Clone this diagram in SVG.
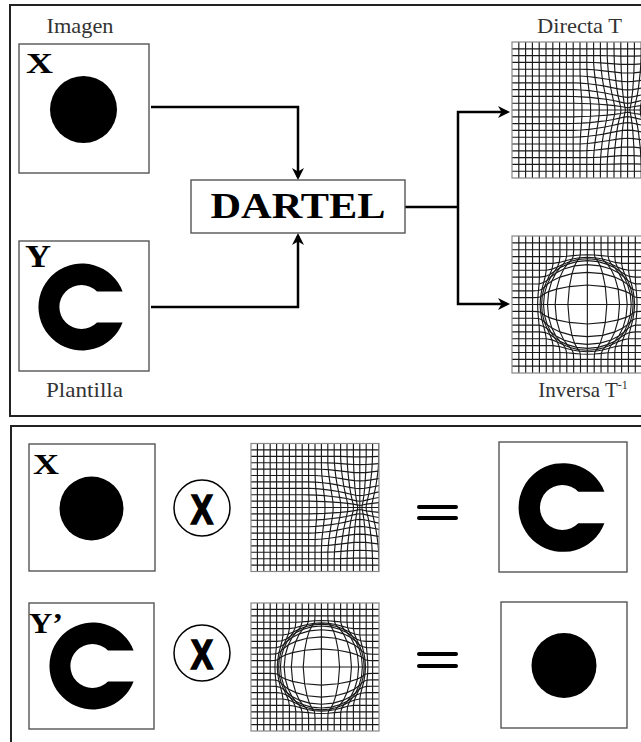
<svg xmlns="http://www.w3.org/2000/svg" xmlns:xlink="http://www.w3.org/1999/xlink" width="641" height="742" viewBox="0 0 641 742">
<defs>
<style>
.frame{fill:none;stroke:#222;stroke-width:2}
.box{fill:#fff;stroke:#555;stroke-width:1.4}
.gbox{fill:none;stroke:#888;stroke-width:1.2}
.lbl{font-family:"Liberation Serif","DejaVu Serif",serif;font-size:21px;fill:#333}
.big{font-family:"Liberation Serif","DejaVu Serif",serif;font-weight:bold;fill:#000}
.conn{fill:none;stroke:#000;stroke-width:2.5}
.eq{stroke:#000;stroke-width:4;stroke-linecap:round}
.op{fill:#fff;stroke:#000;stroke-width:1.5}
.opx{font-family:"Liberation Sans","DejaVu Sans",sans-serif;font-weight:bold;font-size:42px;fill:#000;stroke:#000;stroke-width:1.6}
.ink{fill:#000;filter:url(#soft)}
.grid path{fill:none;stroke:#1a1a1a;stroke-width:1.15;vector-effect:non-scaling-stroke}
</style>
<filter id="soft" x="-10%" y="-10%" width="120%" height="120%"><feGaussianBlur stdDeviation="0.6"/></filter>
<marker id="arr" viewBox="-10 -7 14 14" markerWidth="14" markerHeight="14" refX="0" refY="0" orient="auto" markerUnits="userSpaceOnUse">
<path d="M3,0 L-9,-6 L-5.5,0 L-9,6 Z" fill="#000"/>
</marker>
<path id="cshape" d="M40.6,-15.5 A43.5,43.5 0 1 0 40.6,15.5 L15,15.5 A22,22 0 1 1 15,-15.5 Z"/>
<symbol id="directaGrid" viewBox="0 0 100 100" class="grid">
<path d="M5 0V100M10 0V100M15 0V100M20 0V100M25 0V100M30 0V100M35 0V100M40 0V100M85 0V100M0 5H130M0 50H130M0 95H130"/>
<path d="M0 55 L40 55 L45.4 55 L51.4 54.8 L57.7 54.6 L64 54.2 L70 53.8 L75.4 53.2 L79.8 52.6 L83 52 L85 51.6 L87 52 L90.2 52.6 L94.6 53.2 L100 53.8 L106 54.2 L112.3 54.6 L118.6 54.8 L124.6 55 L130 55
M0 60 L40 60 L45.2 59.9 L51.1 59.7 L57.3 59.3 L63.4 58.6 L69.3 57.9 L74.6 57 L79 56 L82.4 55.2 L85 54.9 L87.6 55.2 L91 56 L95.4 57 L100.7 57.9 L106.6 58.6 L112.8 59.3 L118.9 59.7 L124.8 59.9 L130 60
M0 65 L40 65 L45.1 65 L50.7 64.7 L56.7 64.2 L62.6 63.4 L68.4 62.5 L73.6 61.4 L78.1 60.4 L81.8 59.6 L85 59.3 L88.2 59.6 L92 60.4 L96.4 61.4 L101.6 62.5 L107.4 63.4 L113.4 64.2 L119.3 64.7 L124.9 65 L130 65
M0 70 L45 70 L50.3 69.8 L56 69.3 L61.8 68.6 L67.3 67.7 L72.5 66.6 L77.2 65.7 L81.3 65 L85 64.8 L88.8 65 L92.9 65.7 L97.5 66.6 L102.7 67.7 L108.2 68.6 L114 69.3 L119.7 69.8 L125 70 L130 70
M0 75 L45 75 L50.1 75 L55.5 74.6 L61 74 L66.4 73.2 L71.6 72.4 L76.4 71.6 L80.8 71 L85 70.8 L89.2 71 L93.6 71.6 L98.4 72.4 L103.6 73.2 L109 74 L114.6 74.6 L119.9 75 L125 75 L130 75
M0 80 L50 80 L55.1 79.9 L60.4 79.6 L65.7 79 L70.8 78.4 L75.8 77.8 L80.4 77.3 L85 77.2 L89.6 77.3 L94.3 77.8 L99.2 78.4 L104.3 79 L109.6 79.6 L114.9 79.9 L120 80 L130 80
M0 85 L55 85 L60.1 84.9 L65.2 84.7 L70.3 84.3 L75.3 83.9 L80.2 83.6 L85 83.5 L89.8 83.6 L94.7 83.9 L99.7 84.3 L104.8 84.7 L110 84.9 L115 85 L130 85
M0 90 L65 90 L70 89.9 L75.1 89.8 L80 89.6 L85 89.6 L90 89.6 L94.9 89.8 L100 89.9 L105 90 L130 90
M0 45 L40 45 L45.4 45 L51.4 45.2 L57.7 45.4 L64 45.8 L70 46.2 L75.4 46.8 L79.8 47.4 L83 48 L85 48.4 L87 48 L90.2 47.4 L94.6 46.8 L100 46.2 L106 45.8 L112.3 45.4 L118.6 45.2 L124.6 45 L130 45
M0 40 L40 40 L45.2 40.1 L51.1 40.3 L57.3 40.7 L63.4 41.4 L69.3 42.1 L74.6 43 L79 44 L82.4 44.8 L85 45.1 L87.6 44.8 L91 44 L95.4 43 L100.7 42.1 L106.6 41.4 L112.8 40.7 L118.9 40.3 L124.8 40.1 L130 40
M0 35 L40 35 L45.1 35 L50.7 35.3 L56.7 35.8 L62.6 36.6 L68.4 37.5 L73.6 38.6 L78.1 39.6 L81.8 40.4 L85 40.7 L88.2 40.4 L92 39.6 L96.4 38.6 L101.6 37.5 L107.4 36.6 L113.4 35.8 L119.3 35.3 L124.9 35 L130 35
M0 30 L45 30 L50.3 30.2 L56 30.7 L61.8 31.4 L67.3 32.3 L72.5 33.4 L77.2 34.3 L81.3 35 L85 35.2 L88.8 35 L92.9 34.3 L97.5 33.4 L102.7 32.3 L108.2 31.4 L114 30.7 L119.7 30.2 L125 30 L130 30
M0 25 L45 25 L50.1 25 L55.5 25.4 L61 26 L66.4 26.8 L71.6 27.6 L76.4 28.4 L80.8 29 L85 29.2 L89.2 29 L93.6 28.4 L98.4 27.6 L103.6 26.8 L109 26 L114.6 25.4 L119.9 25 L125 25 L130 25
M0 20 L50 20 L55.1 20.1 L60.4 20.4 L65.7 21 L70.8 21.6 L75.8 22.2 L80.4 22.7 L85 22.8 L89.6 22.7 L94.3 22.2 L99.2 21.6 L104.3 21 L109.6 20.4 L114.9 20.1 L120 20 L130 20
M0 15 L55 15 L60.1 15.1 L65.2 15.3 L70.3 15.7 L75.3 16.1 L80.2 16.4 L85 16.5 L89.8 16.4 L94.7 16.1 L99.7 15.7 L104.8 15.3 L110 15.1 L115 15 L130 15
M0 10 L65 10 L70 10.1 L75.1 10.2 L80 10.4 L85 10.4 L90 10.4 L94.9 10.2 L100 10.1 L105 10 L130 10"/>
<path d="M45 0 L45 30 L45.1 35 L45.2 40.1 L45.4 45 L45.4 50 L45.4 55 L45.2 59.9 L45.1 65 L45 70 L45 100
M50 0 L50 20 L50.1 25.1 L50.3 30.2 L50.7 35.3 L51.1 40.3 L51.4 45.2 L51.5 50 L51.4 54.8 L51.1 59.7 L50.7 64.7 L50.3 69.8 L50.1 75 L50 80 L50 100
M55 0 L55 15 L55.1 20.1 L55.4 25.4 L56 30.7 L56.6 35.8 L57.2 40.8 L57.7 45.4 L57.8 50 L57.7 54.6 L57.2 59.3 L56.6 64.2 L56 69.3 L55.4 74.6 L55.1 79.9 L55 85 L55 100
M60 0 L60 10 L60 15.1 L60.4 20.5 L61 26 L61.8 31.4 L62.6 36.6 L63.4 41.4 L64 45.8 L64.2 50 L64 54.2 L63.4 58.6 L62.6 63.4 L61.8 68.6 L61 74 L60.4 79.6 L60 84.9 L60 90 L60 100
M65 0 L65 10 L65.2 15.3 L65.7 21 L66.4 26.8 L67.3 32.3 L68.4 37.5 L69.3 42.2 L70 46.3 L70.2 50 L70 53.8 L69.3 57.9 L68.4 62.5 L67.3 67.7 L66.4 73.2 L65.7 79 L65.2 84.7 L65 90 L65 100
M70 0 L70 5 L70 10.1 L70.3 15.7 L70.8 21.7 L71.6 27.6 L72.5 33.4 L73.6 38.6 L74.6 43.1 L75.4 46.8 L75.7 50 L75.4 53.2 L74.6 57 L73.6 61.4 L72.5 66.6 L71.6 72.4 L70.8 78.4 L70.3 84.3 L70 89.9 L70 95 L70 100
M75 0 L75 5 L75.1 10.2 L75.3 16.1 L75.7 22.3 L76.4 28.4 L77.1 34.3 L78 39.6 L79 44 L79.8 47.4 L80.1 50 L79.8 52.6 L79 56 L78 60.4 L77.1 65.7 L76.4 71.6 L75.7 77.8 L75.3 83.9 L75.1 89.8 L75 95 L75 100
M80 0 L80 5 L80 10.4 L80.2 16.4 L80.4 22.7 L80.8 29 L81.2 35 L81.8 40.4 L82.4 44.8 L83 48 L83.4 50 L83 52 L82.4 55.2 L81.8 59.6 L81.2 65 L80.8 71 L80.4 77.3 L80.2 83.6 L80 89.6 L80 95 L80 100
M90 0 L90 5 L90 10.4 L89.8 16.4 L89.6 22.7 L89.2 29 L88.8 35 L88.2 40.4 L87.6 44.8 L87 48 L86.6 50 L87 52 L87.6 55.2 L88.2 59.6 L88.8 65 L89.2 71 L89.6 77.3 L89.8 83.6 L90 89.6 L90 95 L90 100
M95 0 L95 5 L94.9 10.2 L94.7 16.1 L94.3 22.3 L93.6 28.4 L92.9 34.3 L92 39.6 L91 44 L90.2 47.4 L89.9 50 L90.2 52.6 L91 56 L92 60.4 L92.9 65.7 L93.6 71.6 L94.3 77.8 L94.7 83.9 L94.9 89.8 L95 95 L95 100
M100 0 L100 5 L100 10.1 L99.7 15.7 L99.2 21.7 L98.4 27.6 L97.5 33.4 L96.4 38.6 L95.4 43.1 L94.6 46.8 L94.3 50 L94.6 53.2 L95.4 57 L96.4 61.4 L97.5 66.6 L98.4 72.4 L99.2 78.4 L99.7 84.3 L100 89.9 L100 95 L100 100
M105 0 L105 10 L104.8 15.3 L104.3 21 L103.6 26.8 L102.7 32.3 L101.6 37.5 L100.7 42.2 L100 46.3 L99.8 50 L100 53.8 L100.7 57.9 L101.6 62.5 L102.7 67.7 L103.6 73.2 L104.3 79 L104.8 84.7 L105 90 L105 100"/>
</symbol>
<symbol id="inversaGrid" viewBox="0 0 100 100" class="grid">
<path d="M5 0V100M10 0V100M15 0V100M55 0V100M95 0V100M0 5H100M0 10H100M0 50H100M0 90H100M0 95H100"/>
<path d="M0 55 L15 55 L18.9 55.2 L20.9 55.7 L22.1 56.6 L23.7 57.8 L26.8 59.4 L32.5 61.2 L41.9 63.1 L55 64.2 L68.1 63.1 L77.5 61.2 L83.2 59.4 L86.3 57.8 L87.9 56.6 L89.1 55.7 L91.1 55.2 L95 55 L100 55
M0 45 L15 45 L18.9 44.8 L20.9 44.3 L22.1 43.4 L23.7 42.2 L26.8 40.6 L32.5 38.8 L41.9 36.9 L55 35.8 L68.1 36.9 L77.5 38.8 L83.2 40.6 L86.3 42.2 L87.9 43.4 L89.1 44.3 L91.1 44.8 L95 45 L100 45
M0 60 L15 60 L19.3 60.2 L21.9 61.1 L23.6 62.6 L25.7 64.7 L29.1 67.2 L35 70 L43.8 72.5 L55 73.5 L66.2 72.5 L75 70 L80.9 67.2 L84.3 64.7 L86.4 62.6 L88.2 61.1 L90.7 60.2 L95 60 L100 60
M0 40 L15 40 L19.3 39.8 L21.9 38.9 L23.6 37.4 L25.7 35.3 L29.1 32.8 L35 30 L43.8 27.5 L55 26.5 L66.2 27.5 L75 30 L80.9 32.8 L84.3 35.3 L86.4 37.4 L88.2 38.9 L90.7 39.8 L95 40 L100 40
M0 65 L15 65 L19.8 65.1 L23.1 66 L25.6 67.6 L28.3 70.1 L32.1 73 L37.8 75.9 L45.6 78.2 L55 79.1 L64.4 78.2 L72.2 75.9 L78 73 L81.8 70.1 L84.4 67.6 L86.9 66 L90.2 65.1 L95 65 L100 65
M0 35 L15 35 L19.8 34.9 L23.1 34 L25.6 32.4 L28.3 29.9 L32.1 27 L37.8 24.1 L45.6 21.8 L55 20.9 L64.4 21.8 L72.2 24.1 L78 27 L81.8 29.9 L84.4 32.4 L86.9 34 L90.2 34.9 L95 35 L100 35
M0 70 L20 70 L24.3 70.5 L27.6 71.9 L30.9 74.1 L34.9 76.8 L40.3 79.3 L47.2 81.3 L55 82 L62.8 81.3 L69.7 79.3 L75.1 76.8 L79.1 74.1 L82.4 71.9 L85.7 70.5 L90 70 L100 70
M0 30 L20 30 L24.3 29.5 L27.6 28.1 L30.9 25.9 L34.9 23.2 L40.3 20.7 L47.2 18.7 L55 18 L62.8 18.7 L69.7 20.7 L75.1 23.2 L79.1 25.9 L82.4 28.1 L85.7 29.5 L90 30 L100 30
M0 75 L20 75 L25 75 L29.2 75.8 L33.1 77.4 L37.4 79.4 L42.4 81.4 L48.4 82.9 L55 83.4 L61.6 82.9 L67.6 81.4 L72.6 79.4 L76.9 77.4 L80.8 75.8 L85 75 L90 75 L100 75
M0 25 L20 25 L25 25 L29.2 24.2 L33.1 22.6 L37.4 20.6 L42.4 18.6 L48.4 17.1 L55 16.6 L61.6 17.1 L67.6 18.6 L72.6 20.6 L76.9 22.6 L80.8 24.2 L85 25 L90 25 L100 25
M0 80 L25 80 L30 80 L34.5 80.7 L39.1 81.9 L44 83.2 L49.3 84.1 L55 84.5 L60.7 84.1 L66.1 83.2 L71 81.9 L75.5 80.7 L80 80 L85 80 L100 80
M0 20 L25 20 L30 20 L34.5 19.3 L39.1 18.1 L44 16.8 L49.3 15.9 L55 15.5 L60.7 15.9 L66.1 16.8 L71 18.1 L75.5 19.3 L80 20 L85 20 L100 20
M0 85 L35 85 L39.9 85.2 L44.8 85.7 L49.8 86.1 L55 86.3 L60.2 86.1 L65.2 85.7 L70.1 85.2 L75 85 L100 85
M0 15 L35 15 L39.9 14.8 L44.8 14.3 L49.8 13.9 L55 13.7 L60.2 13.9 L65.2 14.3 L70.1 14.8 L75 15 L100 15"/>
<path d="M60 0 L60 10 L60.2 13.9 L60.7 15.9 L61.6 17.1 L62.8 18.7 L64.4 21.8 L66.2 27.5 L68.1 36.9 L69.2 50 L68.1 63.1 L66.2 72.5 L64.4 78.2 L62.8 81.3 L61.6 82.9 L60.7 84.1 L60.2 86.1 L60 90 L60 100
M50 0 L50 10 L49.8 13.9 L49.3 15.9 L48.4 17.1 L47.2 18.7 L45.6 21.8 L43.8 27.5 L41.9 36.9 L40.8 50 L41.9 63.1 L43.8 72.5 L45.6 78.2 L47.2 81.3 L48.4 82.9 L49.3 84.1 L49.8 86.1 L50 90 L50 100
M65 0 L65 10 L65.2 14.3 L66.1 16.9 L67.6 18.6 L69.7 20.7 L72.2 24.1 L75 30 L77.5 38.8 L78.5 50 L77.5 61.2 L75 70 L72.2 75.9 L69.7 79.3 L67.6 81.4 L66.1 83.2 L65.2 85.7 L65 90 L65 100
M45 0 L45 10 L44.8 14.3 L43.9 16.9 L42.4 18.6 L40.3 20.7 L37.8 24.1 L35 30 L32.5 38.8 L31.5 50 L32.5 61.2 L35 70 L37.8 75.9 L40.3 79.3 L42.4 81.4 L43.9 83.2 L44.8 85.7 L45 90 L45 100
M70 0 L70 10 L70.1 14.8 L71 18.1 L72.6 20.6 L75.1 23.3 L78 27.1 L80.9 32.8 L83.2 40.6 L84.1 50 L83.2 59.4 L80.9 67.2 L78 73 L75.1 76.8 L72.6 79.4 L71 81.9 L70.1 85.2 L70 90 L70 100
M40 0 L40 10 L39.9 14.8 L39 18.1 L37.4 20.6 L34.9 23.3 L32 27.1 L29.1 32.8 L26.8 40.6 L25.9 50 L26.8 59.4 L29.1 67.2 L32 73 L34.9 76.8 L37.4 79.4 L39 81.9 L39.9 85.2 L40 90 L40 100
M75 0 L75 15 L75.5 19.3 L76.9 22.6 L79.1 25.9 L81.8 29.9 L84.3 35.3 L86.3 42.2 L87 50 L86.3 57.8 L84.3 64.7 L81.8 70.1 L79.1 74.1 L76.9 77.4 L75.5 80.7 L75 85 L75 100
M35 0 L35 15 L34.5 19.3 L33.1 22.6 L30.9 25.9 L28.3 29.9 L25.7 35.3 L23.7 42.2 L23 50 L23.7 57.8 L25.7 64.7 L28.3 70.1 L30.9 74.1 L33.1 77.4 L34.5 80.7 L35 85 L35 100
M80 0 L80 20 L80.8 24.2 L82.4 28.1 L84.4 32.4 L86.4 37.4 L87.9 43.4 L88.4 50 L87.9 56.6 L86.4 62.6 L84.4 67.6 L82.4 71.9 L80.8 75.8 L80 80 L80 100
M30 0 L30 20 L29.2 24.2 L27.6 28.1 L25.6 32.4 L23.6 37.4 L22.1 43.4 L21.6 50 L22.1 56.6 L23.6 62.6 L25.6 67.6 L27.6 71.9 L29.2 75.8 L30 80 L30 100
M85 0 L85 25 L85.7 29.5 L86.9 34.1 L88.2 38.9 L89.1 44.3 L89.5 50 L89.1 55.7 L88.2 61.1 L86.9 66 L85.7 70.5 L85 75 L85 100
M25 0 L25 25 L24.3 29.5 L23.1 34.1 L21.8 38.9 L20.9 44.3 L20.5 50 L20.9 55.7 L21.8 61.1 L23.1 66 L24.3 70.5 L25 75 L25 100
M90 0 L90 30 L90.2 34.9 L90.7 39.8 L91.1 44.8 L91.3 50 L91.1 55.2 L90.7 60.2 L90.2 65.1 L90 70 L90 100
M20 0 L20 30 L19.8 34.9 L19.3 39.8 L18.9 44.8 L18.7 50 L18.9 55.2 L19.3 60.2 L19.8 65.1 L20 70 L20 100"/>
</symbol>
</defs>

<rect width="641" height="742" fill="#fff"/>

<g id="panels">
<rect class="frame" x="10" y="5" width="645" height="411"/>
<rect class="frame" x="11" y="426" width="645" height="330"/>
</g>

<g id="connectors">
<path class="conn" d="M151 107 H298 V177" marker-end="url(#arr)"/>
<path class="conn" d="M151 307 H298 V236" marker-end="url(#arr)"/>
<path class="conn" d="M405 207 H458"/>
<path class="conn" d="M458 207 V112 H507" marker-end="url(#arr)"/>
<path class="conn" d="M458 207 V304 H507" marker-end="url(#arr)"/>
</g>

<g id="img-x">
<text class="lbl" x="80" y="33" text-anchor="middle" textLength="67" lengthAdjust="spacingAndGlyphs">Imagen</text>
<rect class="box" x="19" y="44" width="130" height="129"/>
<circle class="ink" cx="83.5" cy="109.5" r="33.5"/>
<text class="big" x="26" y="73" font-size="30" textLength="27" lengthAdjust="spacingAndGlyphs">X</text>
</g>

<g id="img-y">
<rect class="box" x="19" y="241" width="130" height="130"/>
<use href="#cshape" class="ink" transform="translate(82,307)"/>
<text class="big" x="25" y="267" font-size="31" textLength="26" lengthAdjust="spacingAndGlyphs">Y</text>
<text class="lbl" x="84.5" y="397" text-anchor="middle" textLength="77" lengthAdjust="spacingAndGlyphs">Plantilla</text>
</g>

<g id="dartel">
<rect class="box" x="191" y="180" width="214" height="53"/>
<text class="big" x="298" y="218" font-size="36" text-anchor="middle" textLength="175" lengthAdjust="spacingAndGlyphs">DARTEL</text>
</g>

<g id="directa">
<text class="lbl" x="579.5" y="33" text-anchor="middle" textLength="85" lengthAdjust="spacingAndGlyphs">Directa T</text>
<use href="#directaGrid" x="512" y="42" width="136" height="136"/>
<rect class="gbox" x="512" y="42" width="136" height="136"/>
</g>

<g id="inversa">
<use href="#inversaGrid" x="512" y="236" width="137" height="137"/>
<rect class="gbox" x="512" y="236" width="137" height="137"/>
<text class="lbl" x="583" y="397" text-anchor="middle">Inversa T<tspan font-size="12" dy="-8">-1</tspan></text>
</g>

<g id="row1-image">
<rect class="box" x="29" y="444" width="126" height="127"/>
<circle class="ink" cx="91.5" cy="508.5" r="32"/>
<text class="big" x="33" y="474" font-size="30" textLength="26" lengthAdjust="spacingAndGlyphs">X</text>
</g>

<g id="row1-op">
<circle class="op" cx="202" cy="508" r="28"/>
<text class="opx" transform="translate(202,523.5) scale(0.8,1)" text-anchor="middle">X</text>
</g>

<g id="row1-grid">
<use href="#directaGrid" x="251" y="443.5" width="128" height="128"/>
<rect class="gbox" x="251" y="443.5" width="128" height="128"/>
</g>

<g id="row1-eq">
<line class="eq" x1="419" y1="507" x2="456" y2="507"/>
<line class="eq" x1="419" y1="518" x2="456" y2="518"/>
</g>

<g id="row1-result">
<rect class="box" x="499" y="442" width="128" height="130"/>
<use href="#cshape" class="ink" transform="translate(563,507.5) scale(1.02)"/>
</g>

<g id="row2-image">
<rect class="box" x="29" y="603" width="125" height="126"/>
<use href="#cshape" class="ink" transform="translate(93,666)"/>
<text class="big" x="29" y="633" font-size="30" textLength="34" lengthAdjust="spacingAndGlyphs">Y’</text>
</g>

<g id="row2-op">
<circle class="op" cx="202" cy="653" r="28"/>
<text class="opx" transform="translate(202,668.5) scale(0.8,1)" text-anchor="middle">X</text>
</g>

<g id="row2-grid">
<use href="#inversaGrid" x="251" y="603" width="128" height="128"/>
<rect class="gbox" x="251" y="603" width="128" height="128"/>
</g>

<g id="row2-eq">
<line class="eq" x1="419" y1="654" x2="456" y2="654"/>
<line class="eq" x1="419" y1="666" x2="456" y2="666"/>
</g>

<g id="row2-result">
<rect class="box" x="501" y="602" width="126" height="126"/>
<circle class="ink" cx="564" cy="665.5" r="32.5"/>
</g>
</svg>
